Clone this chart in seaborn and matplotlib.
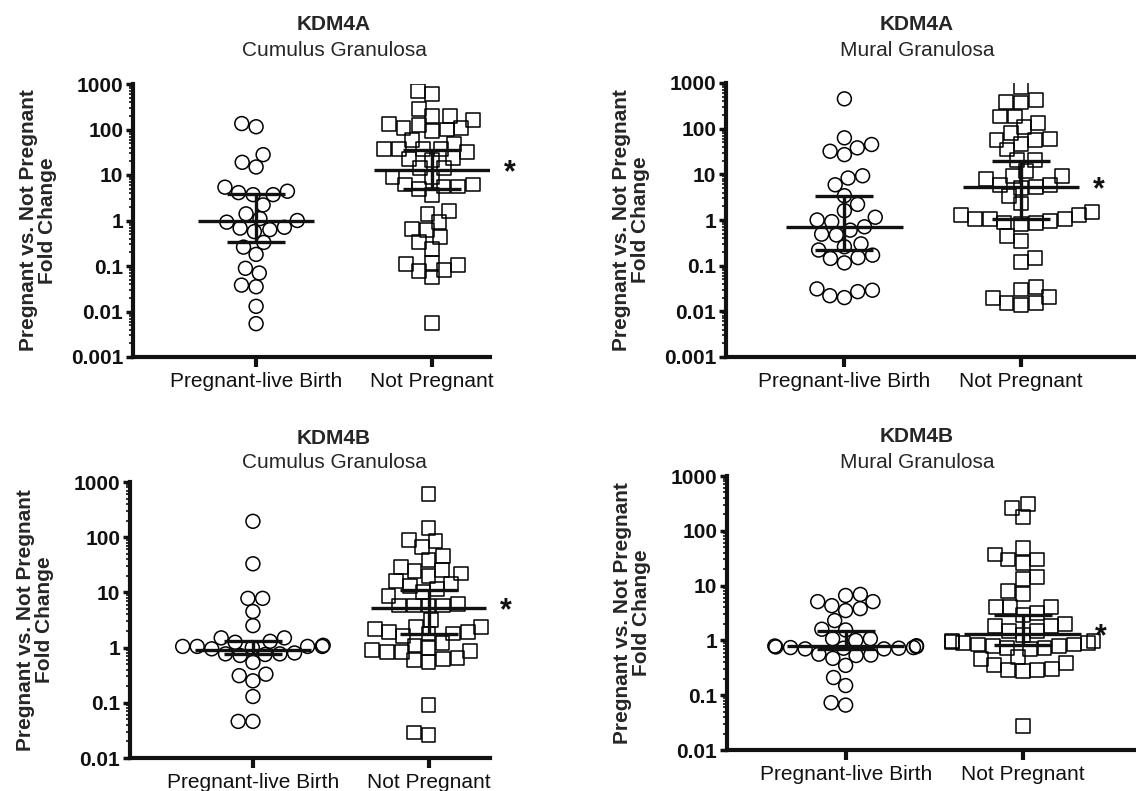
import numpy as np
import pandas as pd
import matplotlib
matplotlib.use("Agg")
import matplotlib.pyplot as plt
import seaborn as sns

sns.set_theme(style="ticks")
plt.rcParams["font.family"] = ["Liberation Sans", "DejaVu Sans"]

groups = ["Pregnant-live Birth", "Not Pregnant"]

# ---- KDM4A, Cumulus Granulosa ----
a_cum_preg = [115, 135, 19, 15, 28, 4.4, 3.7, 3.7, 4.1, 5.4, 2.2, 1.4, 1.0, 0.71, 0.63,
              0.57, 0.68, 0.92, 1.1, 0.33, 0.26, 0.18, 0.089, 0.07, 0.038, 0.035, 0.013, 0.0054]
a_cum_notp = [590, 710, 200, 162, 125, 109, 130, 198, 277, 100, 60, 92, 106, 37, 32, 38, 49,
              37, 37, 22, 14, 14, 21, 24, 9.1, 6.2, 5.6, 3.6, 5.0, 5.6, 6.2, 9.1, 1.4, 0.92,
              1.6, 0.66, 0.44, 0.24, 0.34, 0.63, 0.114, 0.105, 0.079, 0.056, 0.082, 0.11, 0.0055]
a_cum_center = [0.97, 13]
a_cum_low = [0.33, 5.0]
a_cum_high = [3.75, 36]

# ---- KDM4A, Mural Granulosa ----
a_mur_preg = [450, 45, 32, 27, 38, 63, 9.3, 5.9, 8.3, 3.4, 2.2, 1.6, 1.15, 0.92, 0.6, 0.47,
              0.49, 0.71, 1.0, 0.26, 0.17, 0.144, 0.115, 0.15, 0.22, 0.30, 0.031, 0.027,
              0.020, 0.022, 0.029]
a_mur_notp = [800, 390, 375, 415, 185, 135, 185, 107, 79, 59, 47, 57, 57, 35, 21, 21, 9, 8, 9,
              12, 5.9, 5.0, 5.3, 5.9, 3.4, 2.3, 1.5, 1.3, 1.3, 1.03, 0.97, 0.85, 0.83, 0.88,
              1.03, 1.03, 0.44, 0.35, 0.146, 0.123, 0.034, 0.021, 0.0155, 0.0137, 0.015,
              0.0195, 0.030]
a_mur_center = [0.71, 5.4]
a_mur_low = [0.22, 1.03]
a_mur_high = [3.4, 20]

# ---- KDM4B, Cumulus Granulosa ----
b_cum_preg = [194, 33, 7.8, 7.8, 4.5, 2.5, 1.5, 1.25, 1.05, 1.05, 1.0, 0.95, 1.05, 1.1, 1.05,
              1.3, 1.5, 0.75, 0.77, 0.77, 0.8, 0.72, 0.54, 0.33, 0.25, 0.31, 0.13, 0.046, 0.046]
b_cum_notp = [610, 147, 89, 66, 84, 39, 45, 25, 22, 20, 24, 29, 16, 14, 13, 10, 11.6, 8.7, 6.2,
              5.8, 5.8, 5.8, 5.8, 3.2, 2.4, 2.2, 1.9, 1.8, 1.6, 1.8, 1.9, 2.4, 1.2, 1.09, 0.91,
              0.82, 0.62, 0.54, 0.6, 0.65, 0.82, 0.88, 1.0, 0.092, 0.026, 0.029]
b_cum_center = [0.92, 5.3]
b_cum_low = [0.75, 1.8]
b_cum_high = [1.3, 11]

# ---- KDM4B, Mural Granulosa ----
b_mur_preg = [6.9, 5.1, 4.3, 3.5, 3.8, 5.1, 6.6, 2.3, 1.6, 1.55, 1.07, 1.07, 1.0, 0.79, 0.76,
              0.74, 0.72, 0.7, 0.7, 0.72, 0.74, 0.77, 0.8, 0.54, 0.53, 0.56, 0.47, 0.35, 0.21,
              0.15, 0.066, 0.073]
b_mur_notp = [262, 178, 310, 30, 37, 49, 26, 30, 14.4, 13.1, 8.0, 6.9, 4.0, 4.0, 4.0, 3.2, 2.9,
              1.96, 1.8, 1.8, 1.5, 1.5, 0.98, 0.93, 0.9, 0.84, 0.8, 0.73, 0.7, 0.73, 0.8, 0.84,
              0.9, 0.98, 1.25, 0.49, 0.38, 0.30, 0.29, 0.28, 0.29, 0.35, 0.45, 0.027]
b_mur_center = [0.79, 1.32]
b_mur_low = [0.7, 0.84]
b_mur_high = [1.5, 2.9]

ticks_a = [0.001, 0.01, 0.1, 1, 10, 100, 1000]
ticklabels_a = ["0.001", "0.01", "0.1", "1", "10", "100", "1000"]
ticks_b = [0.01, 0.1, 1, 10, 100, 1000]
ticklabels_b = ["0.01", "0.1", "1", "10", "100", "1000"]

W, H = 1136, 791
fig = plt.figure(figsize=(W / 100, H / 100), dpi=100)


def box(l, t, r, b):
    return [l / W, 1 - b / H, (r - l) / W, (b - t) / H]


panels = [
    dict(gene="KDM4A", cell="Cumulus Granulosa", preg=a_cum_preg, notp=a_cum_notp,
         center=a_cum_center, low=a_cum_low, high=a_cum_high, ticks=ticks_a,
         labels=ticklabels_a, box=(133, 84, 490, 357), xlim=(-0.70, 1.33),
         title_xy=(334, 25)),
    dict(gene="KDM4A", cell="Mural Granulosa", preg=a_mur_preg, notp=a_mur_notp,
         center=a_mur_center, low=a_mur_low, high=a_mur_high, ticks=ticks_a,
         labels=ticklabels_a, box=(726, 83, 1136, 357), xlim=(-0.67, 1.65),
         title_xy=(917, 25)),
    dict(gene="KDM4B", cell="Cumulus Granulosa", preg=b_cum_preg, notp=b_cum_notp,
         center=b_cum_center, low=b_cum_low, high=b_cum_high, ticks=ticks_b,
         labels=ticklabels_b, box=(130, 482, 490, 758), xlim=(-0.70, 1.35),
         title_xy=(334, 438)),
    dict(gene="KDM4B", cell="Mural Granulosa", preg=b_mur_preg, notp=b_mur_notp,
         center=b_mur_center, low=b_mur_low, high=b_mur_high, ticks=ticks_b,
         labels=ticklabels_b, box=(727, 476, 1136, 750), xlim=(-0.67, 1.64),
         title_xy=(917, 437)),
]

FS = 15
SWARM_SIZE = 9.0    # packing size used by the swarm layout (allows slight overlap)
MARKER_SIZE = 10.0  # drawn marker size
swarm_cols = []

for p in panels:
    ax = fig.add_axes(box(*p["box"]))
    ax.set_yscale("log")
    ax.set_ylim(p["ticks"][0], p["ticks"][-1])
    ax.set_xlim(*p["xlim"])
    df = pd.DataFrame({
        "group": [groups[0]] * len(p["preg"]) + [groups[1]] * len(p["notp"]),
        "value": list(p["preg"]) + list(p["notp"]),
    })
    for g, mk in zip(groups, ["o", "s"]):
        n0 = len(ax.collections)
        sns.swarmplot(data=df[df["group"] == g], x="group", y="value", order=groups,
                      marker=mk, size=SWARM_SIZE, color="black", facecolor="none",
                      edgecolor="black", linewidth=1.1, warn_thresh=1, ax=ax, zorder=2)
        swarm_cols.extend(ax.collections[n0:])
    xs = np.arange(len(groups))
    center = np.array(p["center"])
    low = np.array(p["low"])
    high = np.array(p["high"])
    ax.hlines(center, xs - 0.33, xs + 0.33, color="#111111", lw=2.4, zorder=4)
    ax.errorbar(xs, center, yerr=[center - low, high - center], fmt="none",
                ecolor="#111111", elinewidth=2.4, capsize=21, capthick=2.4, zorder=4)
    ax.text(1.44, p["center"][1], "*", fontsize=22, fontweight="bold",
            ha="center", va="center_baseline", color="#111111")

    ax.set_xlim(*p["xlim"])
    ax.set_ylim(p["ticks"][0], p["ticks"][-1])
    ax.set_yticks(p["ticks"])
    ax.set_yticklabels(p["labels"], fontsize=FS, fontweight="bold")
    ax.yaxis.set_minor_locator(matplotlib.ticker.LogLocator(base=10, subs=np.arange(2, 10)))
    ax.yaxis.set_minor_formatter(matplotlib.ticker.NullFormatter())
    ax.set_xticks(xs)
    ax.set_xticklabels(groups, fontsize=FS)
    ax.set_xlabel("")
    ax.set_ylabel("Pregnant vs. Not Pregnant\nFold Change", fontsize=FS,
                  fontweight="bold", linespacing=1.0)
    l, t, r, b = p["box"]
    ax.yaxis.set_label_coords((57 + (l - 133) - l) / (r - l), 0.5)
    for s in ["top", "right"]:
        ax.spines[s].set_visible(False)
    for s in ["left", "bottom"]:
        ax.spines[s].set_linewidth(3)
        ax.spines[s].set_color("#111111")
    ax.tick_params(axis="y", which="major", length=5, width=2.5, pad=2, colors="#111111")
    ax.tick_params(axis="y", which="minor", length=3, width=1.2, colors="#111111")
    ax.tick_params(axis="x", which="major", length=7, width=3, pad=4, colors="#111111")
    ax.set_facecolor("white")

    tx, ty = p["title_xy"]
    fig.text(tx / W, 1 - ty / H, p["gene"], fontsize=FS, fontweight="bold",
             ha="center", va="center")
    fig.text(tx / W, 1 - (ty + 25) / H, p["cell"], fontsize=FS, ha="center", va="center")

# run the swarm layout once, then freeze positions and set the drawn marker size
fig.canvas.draw()
for c in swarm_cols:
    if "draw" in c.__dict__:
        del c.draw
    c.set_sizes([MARKER_SIZE ** 2])

fig.savefig("out.png", dpi=100, facecolor="white")
